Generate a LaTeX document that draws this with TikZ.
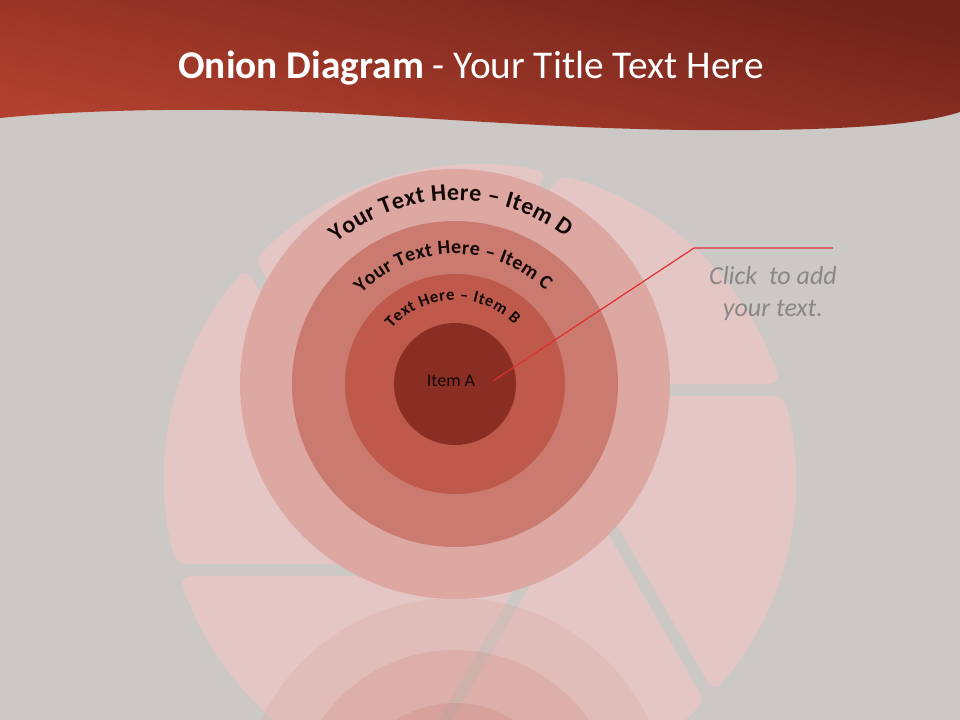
\documentclass[tikz,border=0pt]{standalone}
\usepackage{fontspec}
\setmainfont{Carlito}
\usetikzlibrary{decorations.text}
\definecolor{bg}{HTML}{CCC8C5}
\definecolor{blade}{HTML}{E4C7C5}
\definecolor{ringD}{HTML}{DDA8A2}
\definecolor{ringC}{HTML}{CA7A6F}
\definecolor{ringB}{HTML}{BE594B}
\definecolor{ringA}{HTML}{8A2D22}
\definecolor{hdrdark}{HTML}{70231A}
\definecolor{hdrlight}{HTML}{B3412F}
\definecolor{callred}{HTML}{DE2E2E}
\definecolor{greytext}{HTML}{8A8787}
\definecolor{arctext}{HTML}{140807}
\begin{document}
\begin{tikzpicture}[x=0.75pt,y=0.75pt,
  ring/.style={circle, inner sep=0pt, draw=none},
  bladeshape/.style={fill=blade, rounded corners=7.5pt},
  arclabel/.style={decorate, decoration={text along path, text align=fit to path, text color=arctext, text={#1}}}]
\fill[bg] (0,0) rectangle (960,-720);
\useasboundingbox (0,0) rectangle (960,-720);

% aperture blades
\foreach \k in {0,...,5}{
  \begin{scope}[shift={(480,-480)}, rotate=60*\k]
    \path[bladeshape] (-62.4,-84) -- (-303.6,-84) arc[start angle=195.5,end angle=137.8,radius=315] -- cycle;
  \end{scope}
}

% reflection
\fill[ringD, fill opacity=0.3] (455,-813) circle[radius=215];
\fill[ringC, fill opacity=0.2] (455,-813) circle[radius=163];
\fill[ringB, fill opacity=0.15] (455,-813) circle[radius=110];
\fill[ringA, fill opacity=0.12] (455,-813) circle[radius=61];

% header
\shade[top color=hdrdark, bottom color=hdrlight, shading angle=-12]
  (0,0) -- (960,0) -- (960,-112) .. controls (930,-122) and (870,-129) .. (760,-130)
  .. controls (600,-132) and (470,-120) .. (330,-113)
  .. controls (200,-107) and (80,-110) .. (0,-118) -- cycle;
\node[text=white, font=\fontsize{29.5}{34}\selectfont, inner sep=0pt] (title) at (471,-68)
  {\textbf{Onion Diagram} - Your Title Text Here};

% onion
\coordinate (oc) at (455,-384);
\node[ring, fill=ringD, minimum size=322.5pt] (D) at (oc) {};
\node[ring, fill=ringC, minimum size=244.5pt] (C) at (oc) {};
\node[ring, fill=ringB, minimum size=165pt] (B) at (oc) {};
\node[ring, fill=ringA, minimum size=91.5pt] (A) at (oc) {};
\node[text=arctext, font=\fontsize{13.5}{16}\selectfont, inner sep=1pt] (itemA) at (451,-381) {Item A};

\path[arclabel={|\fontsize{18}{20}\selectfont\bfseries|Your Text Here – Item D}]
  ([shift={(130:184)}]oc) arc[start angle=130,end angle=53,radius=184];
\path[arclabel={|\fontsize{15}{17}\selectfont\bfseries|Your Text Here – Item C}]
  ([shift={(136:130)}]oc) arc[start angle=136,end angle=46,radius=130];
\path[arclabel={|\fontsize{12.5}{14}\selectfont\bfseries|Text Here – Item B}]
  ([shift={(139:84)}]oc) arc[start angle=139,end angle=45,radius=84];

% callout
\coordinate (cs) at (493,-381);
\coordinate (cb) at (694,-248);
\coordinate (ce) at (833,-248);
\draw[callred, line width=0.9pt] (cs) -- (cb) -- (ce);
\node[text=greytext, font=\fontsize{19.5}{24}\selectfont\itshape, align=center] (click) at (773,-294)
  {Click\ \ to add\\your text.};
\end{tikzpicture}
\end{document}
